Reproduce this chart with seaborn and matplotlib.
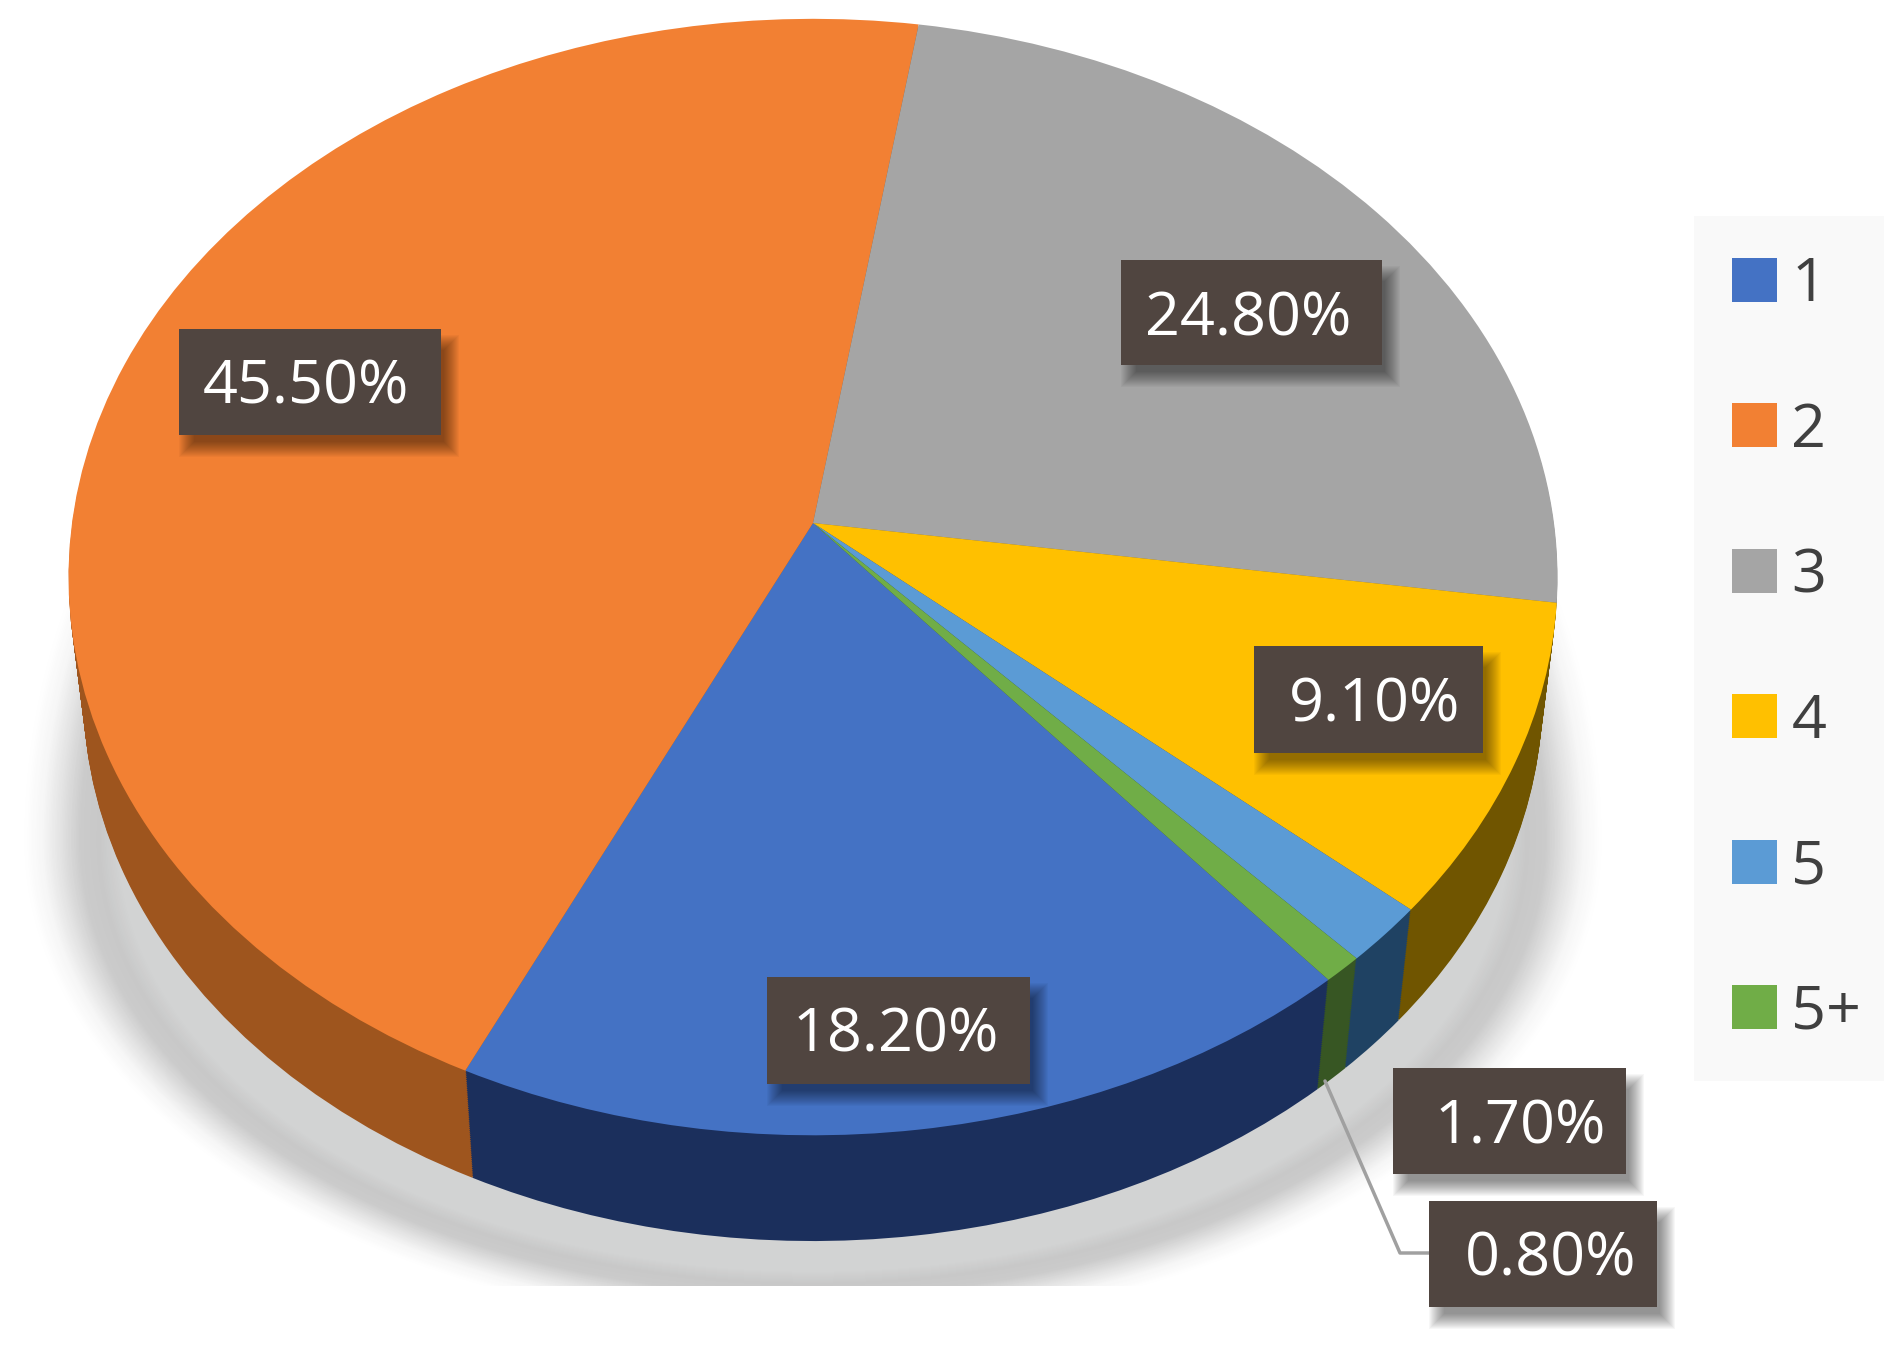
import numpy as np
import matplotlib
matplotlib.use("Agg")
import matplotlib.pyplot as plt
import seaborn as sns
from matplotlib.patches import Patch, Rectangle
from matplotlib.transforms import Transform

# -------- data --------
categories = ["1", "2", "3", "4", "5", "5+"]
shares = [18.2, 45.5, 24.8, 9.1, 1.7, 0.8]
top_colors = ["#4472C4", "#F28033", "#A5A5A5", "#FFC000", "#5B9BD5", "#70AD47"]
wall_colors = ["#1B2F5C", "#9E551E", "#666666", "#705500", "#1F4263", "#375623"]

# label boxes: left, top, right, bottom, text x, text y (pixels)
label_boxes = [
    (767, 977, 1030, 1084, 896, 1029),
    (179, 329, 441, 435, 306, 382),
    (1121, 260, 1382, 365, 1248, 313),
    (1254, 646, 1483, 753, 1375, 699),
    (1393, 1068, 1626, 1174, 1520, 1121),
    (1429, 1201, 1657, 1307, 1551, 1254),
]
leader_x = [1325, 1400, 1429]
leader_y = [1081, 1253, 1253]

sns.set_theme(style="white")
plt.rcParams["font.family"] = ["Open Sans", "DejaVu Sans"]


class Tilt(Transform):
    # unit circle -> tilted disc seen in perspective, in pixels
    input_dims = 2
    output_dims = 2
    is_separable = False
    has_inverse = False

    def __init__(self, drop=0, scale=1.0, cx=813, cy=523, sx=741, sy=553, k=0.0968):
        super().__init__()
        self.drop, self.scale = drop, scale
        self.cx, self.cy, self.sx, self.sy, self.k = cx, cy, sx, sy, k

    def transform_non_affine(self, values):
        values = np.asarray(values)
        w = 1 + self.k * values[:, 1]
        x = self.cx + self.scale * self.sx * values[:, 0] / w
        y = self.cy + self.drop - self.scale * self.sy * values[:, 1] / w
        return np.column_stack([x, y])


fig = plt.figure(figsize=(18.84, 13.52), dpi=100)
ax = fig.add_axes([0, 0, 1, 1])

start = 90 - 139.9
pie_args = dict(counterclock=False, wedgeprops=dict(linewidth=0))

# soft shadow under the disc: flat lower half, tall upper half hidden behind the pie
shadow_steps = 60
shadow_cols = sns.blend_palette(["#FFFFFF", "#F6F6F6", "#E2E2E2", "#CBCBCB", "#C8C8C8", "#D2D3D3"], shadow_steps)
for i in range(shadow_steps):
    r = 1.0 - 0.12 * i / (shadow_steps - 1)
    wedges, _ = ax.pie([1, 1], colors=[shadow_cols[i]] * 2, radius=r, startangle=0, **pie_args)
    wedges[0].set_transform(Tilt(cy=841, sx=790, sy=490, k=0) + ax.transData)
    wedges[1].set_transform(Tilt(cy=841, sx=790, sy=740, k=0) + ax.transData)
# the shadow stops on a hard line under the pie
ax.add_patch(Rectangle((0, 1286), 1884, 66, fc="white", ec="none"))

# side wall, stacked discs from the bottom up
wall_depth = 118
for drop in range(wall_depth, 0, -2):
    wedges, _ = ax.pie(shares, colors=wall_colors, startangle=start, **pie_args)
    for w in wedges:
        w.set_transform(Tilt(drop=drop, scale=1 - 0.02 * drop / wall_depth) + ax.transData)

# top face
wedges, _ = ax.pie(shares, colors=top_colors, startangle=start, **pie_args)
for w in wedges:
    w.set_transform(Tilt() + ax.transData)

ax.set_aspect("auto")
ax.set_xlim(0, 1884)
ax.set_ylim(1352, 0)
ax.axis("off")

ax.plot(leader_x, leader_y, color="#A0A0A0", lw=2.5, zorder=2)

# data labels with blurred drop shadow
for val, (x0, y0, x1, y1, tx, ty) in zip(shares, label_boxes):
    for g in range(16):
        ax.add_patch(Rectangle((x0 + g, y0 + 6 + g), x1 - x0 + 18 - 2 * g, y1 - y0 + 16 - 2 * g,
                               fc="black", ec="none", alpha=0.03, zorder=2.4))
    ax.add_patch(Rectangle((x0, y0), x1 - x0, y1 - y0, fc="#504540", ec="none", zorder=2.5))
    ax.text(tx, ty + 6, f"{val:.2f}%", color="white", fontsize=44, ha="center", va="center", zorder=3)

# legend panel
ax.add_patch(Rectangle((1694, 216), 190, 865, fc="#F9F9F9", ec="none", zorder=0.5))
handles = [Patch(fc=c, ec="none", label=n) for c, n in zip(top_colors, categories)]
ax.legend(handles=handles, frameon=False, loc="upper left", bbox_to_anchor=(1732 / 1884, 1 - 255 / 1352),
          bbox_transform=fig.transFigure, borderpad=0, borderaxespad=0, fontsize=44,
          handlelength=0.73, handleheight=0.73, handletextpad=0.24, labelspacing=1.40,
          labelcolor="#404040")

fig.savefig("out.png", dpi=100)
